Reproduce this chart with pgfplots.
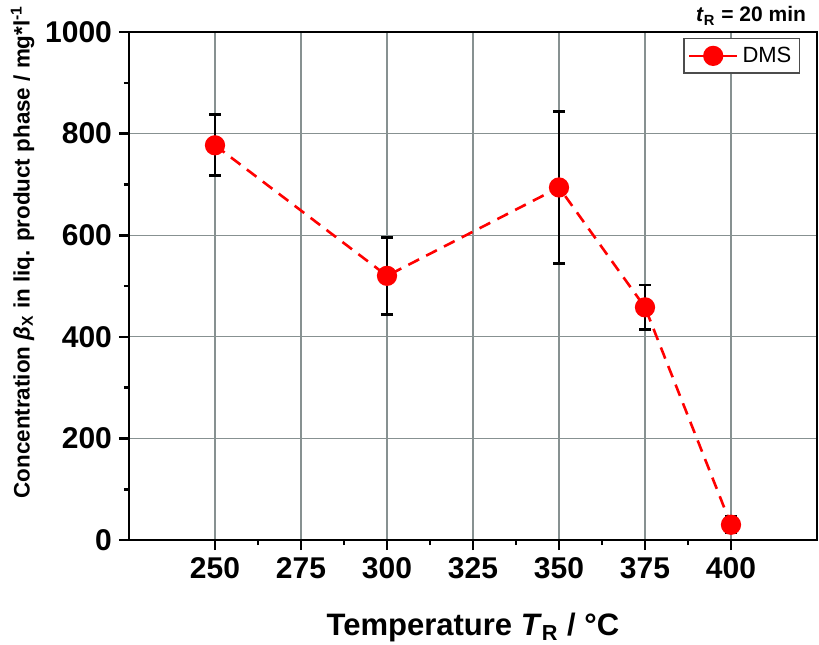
\documentclass[border=0pt]{standalone}
\usepackage{fontspec}
\setmainfont{Liberation Sans}
\usepackage{pgfplots}
\pgfplotsset{compat=1.18}
\definecolor{gridgray}{RGB}{135,145,145}
\pgfplotstableread{
T c e
250 777 60
300 520 76
350 694 150
375 458 44
400 30 16
}\dmsdata
\begin{document}
\begin{tikzpicture}
\path[use as bounding box] (0,0) rectangle (409.5pt,322pt);
\begin{axis}[
  at={(64.5pt,52pt)}, anchor=south west,
  scale only axis, width=344pt, height=254pt,
  xmin=225, xmax=425, ymin=0, ymax=1000,
  xtick={250,275,...,400}, ytick={0,200,...,1000},
  minor x tick num=1, minor y tick num=1,
  tick pos=left, tick align=outside,
  major tick length=5pt, minor tick length=2.5pt,
  tick style={black, line width=1.3pt},
  axis line style={line width=1.3pt},
  grid=major, major grid style={gridgray, line width=0.6pt},
  ticklabel style={font=\fontsize{15}{18}\selectfont\bfseries},
  /pgf/number format/assume math mode=true,
  /pgf/number format/set thousands separator={},
  xlabel={Temperature \textit{T}\textsubscript{R} / °C},
  xlabel style={font=\fontsize{15.5}{18}\selectfont\bfseries, at={(axis description cs:0.5,-0.187)}, anchor=base},
  ylabel={Concentration \textit{β}\textsubscript{X} in liq. product phase / mg*l\textsuperscript{-1}},
  ylabel style={font=\fontsize{11.2}{14}\selectfont\bfseries, at={(axis description cs:-0.1445,0.068)}, anchor=base west},
  legend style={at={(0.9753,0.988)}, anchor=north east, draw=black!70, line width=0.6pt,
    font=\fontsize{11}{13}\selectfont, inner sep=2pt},
  legend image code/.code={\draw[#1, solid, mark repeat=2, mark phase=2] plot coordinates {(0pt,0pt) (12pt,0pt) (24pt,0pt)};},
]
\addplot[red, line width=1.3pt, dash pattern=on 6pt off 4pt,
  mark=*, mark size=4.4pt, mark options={solid, fill=red, draw=red},
  error bars/.cd, y dir=both, y explicit,
  error bar style={black, solid, line width=1.4pt},
  error mark options={black, solid, rotate=90, mark size=3pt, line width=1.4pt}]
  table[x=T, y=c, y error=e] {\dmsdata};
\addlegendentry{DMS}
\end{axis}
\node[anchor=base east, font=\fontsize{10.5}{12}\selectfont\bfseries] at (406.5pt,311pt) {\textit{t}\textsubscript{R} = 20 min};
\end{tikzpicture}
\end{document}
